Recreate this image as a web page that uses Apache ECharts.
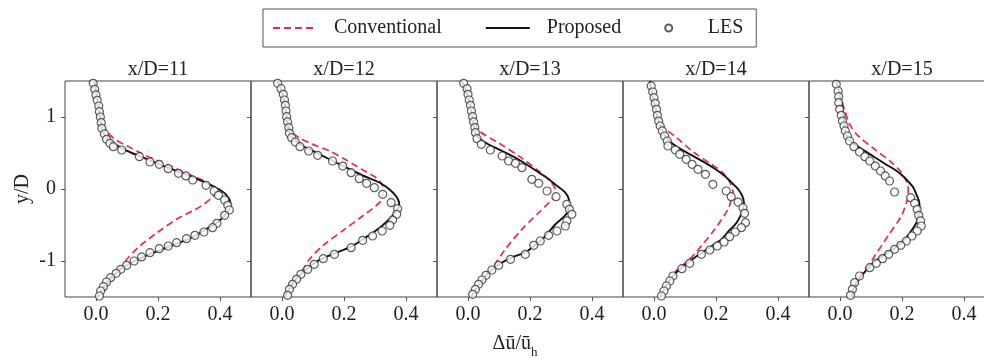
<!DOCTYPE html>
<html><head><meta charset="utf-8">
<script src="https://cdn.jsdelivr.net/npm/echarts@6/dist/echarts.min.js"></script>
<style>html,body{margin:0;padding:0;background:#fff}#c{width:984px;height:361px}</style>
</head><body><div id="c"></div>
<script>
const panelTitles = ['x/D=11', 'x/D=12', 'x/D=13', 'x/D=14', 'x/D=15'];
const xTicks = [0, 0.2, 0.4];
const yTicks = [-1, 0, 1];

// ---- x/D = 11 ----
const conv11 = [[-0.005,1.5],[0.003,1.3],[0.012,1.1],[0.02,0.92],[0.035,0.8],[0.061,0.69],[0.1,0.6],[0.153,0.48],[0.2,0.39],[0.239,0.32],[0.28,0.24],[0.314,0.18],[0.345,0.12],[0.37,0.05],[0.383,-0.02],[0.378,-0.1],[0.345,-0.22],[0.314,-0.3],[0.26,-0.42],[0.196,-0.61],[0.142,-0.79],[0.099,-0.98],[0.072,-1.16],[0.05,-1.25],[0.03,-1.36],[0.015,-1.44],[0.005,-1.5]];
const prop11 = [[-0.005,1.5],[0.002,1.3],[0.01,1.1],[0.016,0.92],[0.024,0.78],[0.04,0.68],[0.07,0.6],[0.1,0.53],[0.15,0.44],[0.206,0.34],[0.26,0.25],[0.314,0.16],[0.36,0.08],[0.395,0.0],[0.42,-0.08],[0.434,-0.2],[0.425,-0.32],[0.39,-0.47],[0.35,-0.57],[0.32,-0.65],[0.26,-0.76],[0.206,-0.85],[0.16,-0.93],[0.125,-1.0],[0.088,-1.09],[0.06,-1.18],[0.04,-1.27],[0.025,-1.36],[0.013,-1.44],[0.005,-1.5]];
const les11 = [[-0.009,1.468],[-0.004,1.384],[0.0,1.306],[0.004,1.231],[0.009,1.153],[0.011,1.074],[0.014,1.0],[0.017,0.921],[0.019,0.843],[0.027,0.764],[0.034,0.69],[0.045,0.634],[0.056,0.588],[0.083,0.542],[0.14,0.449],[0.174,0.375],[0.204,0.343],[0.233,0.282],[0.266,0.218],[0.29,0.181],[0.312,0.125],[0.355,0.051],[0.381,-0.028],[0.395,-0.088],[0.415,-0.153],[0.425,-0.227],[0.43,-0.292],[0.415,-0.366],[0.39,-0.477],[0.376,-0.537],[0.348,-0.597],[0.319,-0.644],[0.292,-0.69],[0.26,-0.745],[0.233,-0.792],[0.204,-0.829],[0.174,-0.884],[0.147,-0.944],[0.123,-1.0],[0.099,-1.06],[0.08,-1.116],[0.065,-1.171],[0.047,-1.231],[0.034,-1.292],[0.024,-1.356],[0.015,-1.417],[0.011,-1.486]];

// ---- x/D = 12 ----
const conv12 = [[-0.015,1.5],[0.0,1.35],[0.01,1.15],[0.018,0.95],[0.03,0.8],[0.056,0.71],[0.1,0.62],[0.153,0.53],[0.2,0.42],[0.239,0.32],[0.275,0.23],[0.303,0.16],[0.32,0.08],[0.328,0.0],[0.325,-0.08],[0.314,-0.19],[0.26,-0.375],[0.196,-0.58],[0.131,-0.79],[0.088,-0.98],[0.072,-1.09],[0.05,-1.22],[0.03,-1.35],[0.015,-1.45],[0.01,-1.5]];
const prop12 = [[-0.015,1.5],[0.0,1.35],[0.01,1.15],[0.016,0.95],[0.024,0.78],[0.045,0.67],[0.07,0.59],[0.099,0.53],[0.15,0.42],[0.206,0.3],[0.26,0.19],[0.314,0.09],[0.345,0.0],[0.368,-0.1],[0.378,-0.2],[0.373,-0.28],[0.346,-0.42],[0.32,-0.52],[0.292,-0.61],[0.26,-0.7],[0.228,-0.79],[0.19,-0.86],[0.15,-0.93],[0.115,-1.0],[0.077,-1.12],[0.045,-1.25],[0.028,-1.35],[0.015,-1.45],[0.01,-1.5]];
const les12 = [[-0.014,1.468],[-0.003,1.394],[0.004,1.315],[0.008,1.236],[0.011,1.162],[0.013,1.083],[0.015,1.005],[0.018,0.931],[0.022,0.852],[0.024,0.773],[0.031,0.713],[0.043,0.653],[0.058,0.588],[0.086,0.528],[0.115,0.468],[0.163,0.389],[0.196,0.319],[0.223,0.227],[0.249,0.144],[0.273,0.079],[0.298,0.019],[0.325,-0.074],[0.352,-0.19],[0.373,-0.273],[0.37,-0.352],[0.357,-0.431],[0.348,-0.505],[0.323,-0.583],[0.292,-0.653],[0.26,-0.713],[0.223,-0.815],[0.169,-0.907],[0.133,-0.968],[0.104,-1.046],[0.083,-1.116],[0.061,-1.185],[0.047,-1.255],[0.034,-1.324],[0.024,-1.394],[0.018,-1.477]];

// ---- x/D = 13 ----
const conv13 = [[-0.02,1.5],[-0.005,1.35],[0.008,1.15],[0.018,0.95],[0.035,0.81],[0.099,0.64],[0.163,0.46],[0.228,0.25],[0.265,0.11],[0.282,-0.02],[0.271,-0.14],[0.228,-0.33],[0.174,-0.56],[0.12,-0.84],[0.083,-1.07],[0.067,-1.16],[0.04,-1.3],[0.018,-1.44],[0.012,-1.5]];
const prop13 = [[-0.02,1.5],[-0.005,1.35],[0.008,1.15],[0.016,0.95],[0.024,0.78],[0.04,0.69],[0.07,0.61],[0.099,0.55],[0.163,0.41],[0.228,0.23],[0.26,0.14],[0.282,0.06],[0.314,-0.05],[0.327,-0.19],[0.32,-0.33],[0.3,-0.42],[0.282,-0.49],[0.26,-0.6],[0.239,-0.7],[0.21,-0.8],[0.185,-0.88],[0.142,-0.95],[0.099,-1.05],[0.067,-1.16],[0.04,-1.3],[0.018,-1.44],[0.012,-1.5]];
const les13 = [[-0.014,1.468],[-0.003,1.394],[0.0,1.315],[0.004,1.236],[0.008,1.162],[0.011,1.083],[0.015,1.005],[0.018,0.931],[0.022,0.852],[0.024,0.782],[0.029,0.699],[0.043,0.62],[0.072,0.542],[0.11,0.458],[0.131,0.389],[0.153,0.356],[0.174,0.296],[0.206,0.134],[0.228,0.079],[0.255,-0.028],[0.284,-0.106],[0.319,-0.213],[0.327,-0.282],[0.335,-0.352],[0.319,-0.444],[0.314,-0.514],[0.287,-0.583],[0.26,-0.644],[0.233,-0.722],[0.212,-0.782],[0.185,-0.907],[0.137,-0.977],[0.099,-1.06],[0.077,-1.125],[0.058,-1.199],[0.045,-1.264],[0.034,-1.324],[0.024,-1.394],[0.015,-1.463]];

// ---- x/D = 14 ----
const conv14 = [[-0.014,1.5],[-0.005,1.3],[0.005,1.12],[0.013,0.97],[0.03,0.86],[0.074,0.71],[0.128,0.51],[0.19,0.33],[0.223,0.22],[0.245,0.09],[0.255,-0.05],[0.25,-0.13],[0.239,-0.28],[0.196,-0.56],[0.153,-0.79],[0.11,-1.0],[0.084,-1.08],[0.06,-1.2],[0.045,-1.3],[0.024,-1.46],[0.02,-1.5]];
const prop14 = [[-0.014,1.5],[-0.005,1.3],[0.005,1.12],[0.013,0.97],[0.025,0.82],[0.04,0.71],[0.06,0.63],[0.088,0.55],[0.125,0.46],[0.163,0.37],[0.2,0.27],[0.228,0.18],[0.255,0.07],[0.271,0.0],[0.285,-0.1],[0.29,-0.19],[0.287,-0.28],[0.278,-0.38],[0.266,-0.47],[0.24,-0.59],[0.217,-0.7],[0.19,-0.78],[0.163,-0.86],[0.135,-0.94],[0.11,-1.02],[0.072,-1.16],[0.045,-1.3],[0.024,-1.46],[0.02,-1.5]];
const les14 = [[-0.009,1.431],[-0.004,1.347],[0.0,1.269],[0.004,1.19],[0.008,1.106],[0.011,1.023],[0.015,0.944],[0.02,0.875],[0.027,0.806],[0.034,0.736],[0.043,0.667],[0.045,0.597],[0.069,0.542],[0.083,0.481],[0.104,0.412],[0.123,0.343],[0.142,0.273],[0.166,0.204],[0.19,0.065],[0.233,-0.028],[0.249,-0.106],[0.271,-0.181],[0.287,-0.259],[0.292,-0.338],[0.295,-0.468],[0.282,-0.537],[0.262,-0.597],[0.244,-0.662],[0.226,-0.736],[0.204,-0.792],[0.18,-0.847],[0.153,-0.907],[0.115,-1.032],[0.09,-1.106],[0.061,-1.208],[0.051,-1.278],[0.04,-1.347],[0.032,-1.417],[0.024,-1.486]];

// ---- x/D = 15 ----
const conv15 = [[-0.012,1.5],[0.0,1.3],[0.015,1.1],[0.031,0.9],[0.058,0.74],[0.112,0.55],[0.166,0.37],[0.198,0.23],[0.215,0.1],[0.22,0.02],[0.22,-0.1],[0.215,-0.18],[0.198,-0.375],[0.155,-0.65],[0.112,-0.93],[0.08,-1.12],[0.063,-1.21],[0.047,-1.35],[0.037,-1.5]];
const prop15 = [[-0.012,1.5],[0.0,1.3],[0.01,1.06],[0.02,0.76],[0.03,0.68],[0.047,0.62],[0.08,0.53],[0.112,0.44],[0.145,0.35],[0.176,0.27],[0.2,0.19],[0.219,0.11],[0.235,0.03],[0.246,-0.07],[0.255,-0.17],[0.257,-0.28],[0.252,-0.38],[0.246,-0.47],[0.23,-0.58],[0.209,-0.7],[0.185,-0.79],[0.155,-0.88],[0.127,-0.96],[0.101,-1.05],[0.069,-1.21],[0.047,-1.35],[0.037,-1.5]];
const les15 = [[-0.012,1.454],[-0.006,1.361],[-0.004,1.282],[-0.004,1.199],[-0.001,1.106],[0.004,1.023],[0.008,0.944],[0.013,0.875],[0.017,0.806],[0.024,0.736],[0.031,0.667],[0.045,0.588],[0.063,0.514],[0.08,0.449],[0.096,0.389],[0.114,0.319],[0.131,0.25],[0.146,0.181],[0.16,0.111],[0.176,-0.042],[0.228,-0.12],[0.241,-0.199],[0.249,-0.282],[0.254,-0.366],[0.26,-0.444],[0.262,-0.514],[0.249,-0.583],[0.232,-0.653],[0.214,-0.722],[0.196,-0.782],[0.176,-0.838],[0.157,-0.907],[0.137,-0.968],[0.117,-1.032],[0.096,-1.093],[0.063,-1.208],[0.047,-1.301],[0.04,-1.394],[0.034,-1.477]];

const convAll = [conv11, conv12, conv13, conv14, conv15];
const propAll = [prop11, prop12, prop13, prop14, prop15];
const lesAll = [les11, les12, les13, les14, les15];

const FONT = '"Liberation Serif", "Times New Roman", serif';
const TXT = '#222';
const chart = echarts.init(document.getElementById('c'), null, { renderer: 'canvas' });

const grids = [], xAxes = [], yAxes = [], series = [], graphics = [];
const PW = 186, PL = 65, PT = 81, PH = 216;

panelTitles.forEach((t, i) => {
  const left = PL + PW * i;
  grids.push({ left: left, top: PT, width: PW, height: PH, show: true, borderColor: '#444', borderWidth: 1,
    backgroundColor: 'transparent', outerBoundsMode: 'none', containLabel: false });
  const xa = {
    type: 'value', gridIndex: i, min: -0.1, max: 0.5, position: 'bottom',
    splitLine: { show: false }, axisLine: { show: false, onZero: false },
    axisTick: { show: true, customValues: xTicks, length: 4, lineStyle: { color: '#555' } },
    axisLabel: { customValues: xTicks, formatter: v => v.toFixed(1), margin: 8, fontFamily: FONT, fontSize: 20, color: TXT }
  };
  if (i === 2) {
    xa.name = '{a|Δū/ū}{b|h}';
    xa.nameLocation = 'middle';
    xa.nameGap = 32;
    xa.nameTextStyle = {
      padding: [0, 30, 0, 0],
      rich: {
        a: { fontFamily: FONT, fontSize: 20, color: TXT, lineHeight: 22 },
        b: { fontFamily: FONT, fontSize: 13, color: TXT, lineHeight: 30, verticalAlign: 'bottom' }
      }
    };
  }
  xAxes.push(xa);
  const ya = {
    type: 'value', gridIndex: i, min: -1.5, max: 1.5, position: 'left',
    splitLine: { show: false }, axisLine: { show: false, onZero: false },
    axisTick: { show: true, customValues: yTicks, length: 4, lineStyle: { color: '#555' } },
    axisLabel: { show: i === 0, customValues: yTicks, formatter: v => String(v), margin: 9, fontFamily: FONT, fontSize: 20, color: TXT }
  };
  if (i === 0) {
    ya.name = 'y/D';
    ya.nameLocation = 'middle';
    ya.nameGap = 32;
    ya.nameTextStyle = { fontFamily: FONT, fontSize: 20, color: TXT };
  }
  yAxes.push(ya);
  series.push({
    name: 'Conventional', type: 'line', xAxisIndex: i, yAxisIndex: i, data: convAll[i],
    showSymbol: false, symbol: 'none', smooth: 0.3, z: 2,
    lineStyle: { color: '#ee2750', width: 1.7, type: [7, 4] }, itemStyle: { color: '#ee2750' }
  });
  series.push({
    name: 'Proposed', type: 'line', xAxisIndex: i, yAxisIndex: i, data: propAll[i],
    showSymbol: false, symbol: 'none', smooth: 0.3, z: 3,
    lineStyle: { color: '#111', width: 1.9 }, itemStyle: { color: '#111' }
  });
  series.push({
    name: 'LES', type: 'scatter', xAxisIndex: i, yAxisIndex: i, data: lesAll[i],
    symbol: 'circle', symbolSize: 8, z: 4,
    itemStyle: { color: '#fff', borderColor: '#333', borderWidth: 1.2 }
  });
  graphics.push({
    type: 'text', x: left + PW / 2, y: 70,
    style: { text: t, align: 'center', verticalAlign: 'middle', font: '20px "Liberation Serif", serif', fill: TXT }
  });
});

chart.setOption({
  backgroundColor: '#fff',
  animation: false,
  grid: grids, xAxis: xAxes, yAxis: yAxes, series: series,
  graphic: graphics,
  legend: {
    left: 263, top: 9,
    data: [
      { name: 'Conventional', itemStyle: { opacity: 0 } },
      { name: 'Proposed', itemStyle: { opacity: 0 } },
      { name: 'LES' }
    ],
    borderColor: '#555', borderWidth: 1, borderRadius: 0,
    padding: [8, 13, 8, 9], itemGap: 43, itemWidth: 44, itemHeight: 7,
    textStyle: { fontFamily: FONT, fontSize: 20, color: TXT, lineHeight: 22, padding: [0, 0, 0, 12] }
  }
});
</script>
</body></html>
